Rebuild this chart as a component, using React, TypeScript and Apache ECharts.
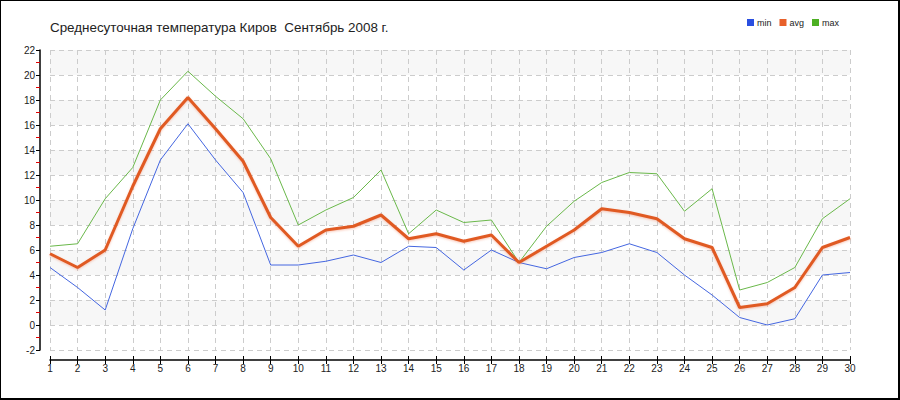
import React, { useEffect, useRef } from "react";
import * as echarts from "echarts";

const days = Array.from({ length: 30 }, (_, i) => String(i + 1));
const minTemps = [4.6, 3.0, 1.2, 7.7, 13.2, 16.1, 13.2, 10.6, 4.8, 4.8, 5.1, 5.6, 5.0, 6.3, 6.2, 4.4, 6.0, 5.0, 4.5, 5.4, 5.8, 6.5, 5.8, 4.0, 2.4, 0.6, 0.0, 0.5, 4.0, 4.2];
const avgTemps = [5.7, 4.6, 6.0, 11.1, 15.7, 18.2, 15.7, 13.1, 8.6, 6.3, 7.6, 7.9, 8.8, 6.9, 7.3, 6.7, 7.2, 5.0, 6.3, 7.6, 9.3, 9.0, 8.5, 6.9, 6.2, 1.4, 1.7, 3.0, 6.2, 7.0];
const maxTemps = [6.3, 6.5, 10.1, 12.6, 18.0, 20.3, 18.3, 16.5, 13.3, 8.0, 9.2, 10.2, 12.4, 7.3, 9.2, 8.2, 8.4, 5.0, 7.9, 9.9, 11.4, 12.2, 12.1, 9.1, 10.9, 2.8, 3.4, 4.6, 8.5, 10.1];
const seriesNames = ["min", "avg", "max"];
const titleText = "Среднесуточная температура Киров  Сентябрь 2008 г.";

const FONT = "'Liberation Sans', Arial, sans-serif";

export default function App() {
  const ref = useRef<HTMLDivElement>(null);
  useEffect(() => {
    if (!ref.current) return;
    const chart = echarts.init(ref.current, null, { renderer: "svg" });
    chart.setOption({
      animation: false,
      backgroundColor: "#ffffff",
      textStyle: { fontFamily: FONT },
      title: {
        text: titleText,
        left: 45,
        top: 16,
        textStyle: { fontSize: 13.4, fontWeight: "normal", color: "#222", fontFamily: FONT },
      },
      legend: {
        data: seriesNames,
        right: 56,
        top: 13,
        icon: "rect",
        itemWidth: 7,
        itemHeight: 7,
        itemGap: 8,
        textStyle: { fontSize: 9, color: "#222", fontFamily: FONT, padding: [0, 0, 0, -2] },
      },
      grid: { left: 50, right: 50, top: 50, bottom: 50, containLabel: false },
      xAxis: [
        {
          type: "category",
          data: days,
          boundaryGap: false,
          offset: 10,
          axisLine: { onZero: false, lineStyle: { color: "#000", width: 1.5 } },
          axisTick: { show: true, length: 4, lineStyle: { color: "#000" } },
          axisLabel: { fontSize: 10, color: "#222", margin: 3, interval: 0, fontFamily: FONT },
          splitLine: { show: true, lineStyle: { color: "#cccccc", type: [5, 4] } },
        },
        {
          type: "category",
          data: days,
          boundaryGap: false,
          position: "bottom",
          offset: 10,
          axisLine: { show: false, onZero: false },
          axisTick: { show: true, inside: true, length: 4, lineStyle: { color: "#000" } },
          axisLabel: { show: false },
          splitLine: { show: false },
        },
      ],
      yAxis: {
        type: "value",
        min: -2,
        max: 22,
        interval: 2,
        offset: 10,
        axisLine: { show: true, onZero: false, lineStyle: { color: "#000", width: 1.5 } },
        axisTick: { show: true, length: 4, lineStyle: { color: "#000" } },
        minorTick: { show: true, splitNumber: 2, length: 4, lineStyle: { color: "#e00000" } },
        axisLabel: { fontSize: 10, color: "#222", margin: 5, fontFamily: FONT },
        splitLine: { show: true, lineStyle: { color: "#cccccc", type: [5, 4] } },
        splitArea: { show: true, areaStyle: { color: ["#ffffff", "#f7f7f7"] } },
      },
      series: [
        {
          name: "min",
          type: "line",
          data: minTemps,
          showSymbol: false,
          color: "#2a4fe0",
          lineStyle: { color: "#4466e0", width: 1 },
          z: 3,
        },
        {
          name: "avg",
          type: "line",
          data: avgTemps,
          showSymbol: false,
          color: "#e8602a",
          lineStyle: {
            color: "#e05a24",
            width: 3,
            shadowColor: "rgba(240,120,80,0.4)",
            shadowBlur: 2,
            shadowOffsetY: 1,
          },
          z: 4,
        },
        {
          name: "max",
          type: "line",
          data: maxTemps,
          showSymbol: false,
          color: "#4db023",
          lineStyle: { color: "#6ab84a", width: 1 },
          z: 2,
        },
      ],
    });
    return () => chart.dispose();
  }, []);
  return (
    <div style={{ position: "absolute", left: 0, top: 0, width: 900, height: 400 }}>
      <div ref={ref} style={{ position: "absolute", left: 0, top: 0, width: 900, height: 400 }} />
      <div
        style={{
          position: "absolute",
          left: 0,
          top: 0,
          width: 900,
          height: 400,
          boxSizing: "border-box",
          borderLeft: "1px solid #000",
          borderTop: "1px solid #000",
          borderRight: "2px solid #000",
          borderBottom: "2px solid #000",
          pointerEvents: "none",
        }}
      />
    </div>
  );
}
